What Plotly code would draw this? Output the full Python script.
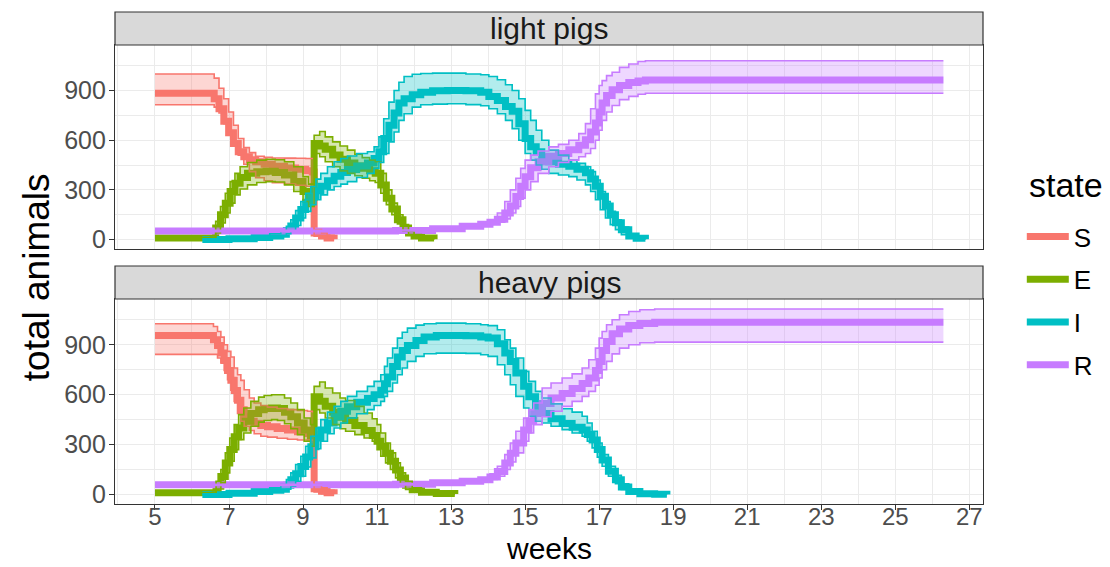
import plotly.graph_objects as go

# ---------------- data (weeks, mean, lower, upper) ----------------
states = ["S", "E", "I", "R"]
x_ticks = [5, 7, 9, 11, 13, 15, 17, 19, 21, 23, 25, 27]
y_ticks = [0, 300, 600, 900]

# light pigs
light_S_weeks = [5.0, 6.5, 6.6, 6.73, 6.86, 6.99, 7.12, 7.25, 7.4, 7.55, 7.72, 7.95, 8.17, 8.5, 8.8, 9.07, 9.25, 9.3, 9.5, 9.65, 9.84]
light_S_mean = [884, 884, 850, 790, 715, 645, 580, 530, 500, 482, 470, 455, 442, 432, 424, 415, 408, 40, 22, 10, 2]
light_S_hi = [1000, 1000, 975, 914, 850, 770, 690, 610, 555, 525, 503, 497, 493, 492, 491, 490, 490, 60, 40, 25, 8]
light_S_lo = [814, 814, 800, 764, 700, 650, 590, 510, 455, 410, 373, 355, 343, 335, 328, 322, 320, 20, 8, 0, 0]

light_E_weeks = [5.0, 6.5, 6.64, 6.77, 6.9, 7.03, 7.16, 7.3, 7.5, 7.75, 8.0, 8.25, 8.5, 8.75, 9.0, 9.15, 9.3, 9.45, 9.6, 9.8, 10.0, 10.2, 10.4, 10.6, 10.8, 10.95, 11.1, 11.25, 11.4, 11.55, 11.7, 11.85, 12.0, 12.2, 12.54]
light_E_mean = [10, 10, 70, 150, 220, 290, 340, 375, 400, 410, 412, 405, 390, 350, 290, 255, 580, 565, 545, 510, 485, 463, 445, 430, 415, 400, 330, 250, 185, 120, 70, 40, 22, 10, 2]
light_E_hi = [12, 15, 110, 200, 280, 350, 400, 440, 465, 480, 485, 482, 470, 440, 380, 335, 630, 653, 620, 590, 565, 540, 515, 495, 480, 470, 400, 300, 220, 150, 90, 50, 30, 15, 5]
light_E_lo = [8, 5, 40, 100, 160, 220, 270, 305, 330, 345, 350, 348, 330, 290, 230, 200, 520, 500, 470, 440, 415, 400, 385, 370, 355, 345, 280, 210, 150, 95, 50, 30, 15, 5, 0]

light_I_weeks = [6.28, 7.0, 7.68, 8.1, 8.4, 8.55, 8.67, 8.8, 8.94, 9.07, 9.21, 9.35, 9.48, 9.66, 9.84, 10.02, 10.2, 10.45, 10.74, 10.92, 11.05, 11.18, 11.32, 11.46, 11.59, 11.73, 11.95, 12.18, 12.5, 12.9, 13.4, 13.8, 14.02, 14.25, 14.47, 14.65, 14.83, 15.0, 15.15, 15.3, 15.45, 15.64, 15.9, 16.18, 16.4, 16.63, 16.77, 16.9, 17.03, 17.17, 17.3, 17.44, 17.6, 17.8, 18.0, 18.25]
light_I_mean = [0, 5, 12, 22, 32, 55, 82, 130, 182, 225, 262, 295, 322, 355, 383, 405, 423, 445, 463, 490, 530, 610, 690, 764, 824, 850, 874, 890, 898, 900, 898, 890, 864, 840, 804, 775, 700, 610, 560, 530, 500, 470, 455, 443, 425, 403, 365, 322, 262, 202, 150, 102, 60, 22, 8, 2]
light_I_hi = [5, 8, 20, 35, 50, 80, 120, 175, 230, 280, 320, 365, 400, 440, 470, 490, 505, 520, 530, 560, 620, 730, 830, 900, 950, 985, 998, 1003, 1005, 1005, 1000, 995, 985, 965, 935, 900, 850, 780, 720, 660, 600, 540, 510, 480, 460, 440, 410, 360, 290, 230, 170, 120, 75, 35, 15, 5]
light_I_lo = [0, 2, 5, 12, 20, 35, 50, 85, 130, 170, 210, 240, 270, 300, 320, 335, 350, 375, 400, 430, 465, 520, 590, 650, 720, 760, 800, 814, 818, 820, 815, 808, 790, 760, 720, 670, 600, 520, 480, 450, 425, 400, 390, 380, 360, 330, 290, 240, 180, 130, 90, 60, 30, 10, 2, 0]

light_R_weeks = [5.0, 11.5, 12.5, 13.3, 13.8, 14.05, 14.25, 14.45, 14.6, 14.75, 14.88, 15.0, 15.15, 15.35, 15.64, 15.9, 16.18, 16.45, 16.63, 16.77, 16.9, 17.0, 17.08, 17.2, 17.35, 17.55, 17.8, 18.05, 18.25, 18.6, 26.3]
light_R_mean = [52, 55, 65, 80, 92, 105, 122, 160, 202, 260, 322, 380, 433, 470, 503, 520, 543, 570, 603, 650, 704, 770, 824, 870, 904, 930, 948, 958, 964, 964, 964]
light_R_hi = [56, 58, 70, 85, 100, 120, 160, 230, 300, 370, 430, 480, 510, 535, 560, 575, 600, 640, 700, 790, 880, 930, 960, 990, 1010, 1040, 1060, 1075, 1080, 1080, 1080]
light_R_lo = [48, 52, 60, 75, 85, 95, 105, 125, 160, 200, 250, 300, 350, 400, 440, 465, 480, 500, 520, 550, 600, 660, 720, 770, 810, 845, 865, 878, 884, 884, 884]

# heavy pigs
heavy_S_weeks = [5.0, 6.46, 6.58, 6.69, 6.78, 6.87, 6.96, 7.05, 7.14, 7.23, 7.32, 7.41, 7.55, 7.68, 7.86, 8.04, 8.3, 8.58, 8.85, 9.12, 9.25, 9.3, 9.5, 9.65, 9.84]
heavy_S_mean = [956, 956, 930, 896, 850, 806, 745, 686, 625, 567, 510, 467, 440, 427, 415, 407, 397, 387, 377, 367, 362, 35, 20, 10, 2]
heavy_S_hi = [1026, 1026, 1010, 980, 946, 900, 860, 826, 760, 720, 686, 630, 580, 550, 535, 525, 517, 510, 505, 500, 497, 60, 40, 25, 8]
heavy_S_lo = [842, 842, 842, 820, 790, 746, 690, 627, 560, 487, 440, 410, 385, 365, 350, 345, 338, 332, 328, 327, 326, 15, 5, 0, 0]

heavy_E_weeks = [5.0, 6.55, 6.65, 6.78, 6.9, 7.02, 7.14, 7.26, 7.4, 7.59, 7.8, 7.95, 8.15, 8.31, 8.5, 8.67, 8.85, 9.03, 9.2, 9.3, 9.45, 9.6, 9.8, 10.0, 10.15, 10.4, 10.65, 10.87, 11.0, 11.1, 11.23, 11.36, 11.5, 11.63, 11.77, 11.95, 12.2, 12.6, 13.1]
heavy_E_mean = [10, 10, 50, 108, 190, 270, 347, 400, 440, 487, 510, 517, 520, 517, 495, 467, 430, 387, 350, 587, 560, 530, 495, 465, 445, 415, 385, 355, 320, 290, 248, 200, 148, 100, 55, 28, 14, 6, 3]
heavy_E_hi = [12, 15, 80, 150, 250, 340, 420, 480, 520, 560, 585, 595, 600, 600, 580, 550, 510, 460, 420, 650, 676, 640, 610, 580, 565, 530, 490, 455, 420, 370, 310, 250, 190, 130, 80, 40, 20, 8, 4]
heavy_E_lo = [8, 8, 25, 70, 130, 200, 270, 330, 370, 410, 435, 445, 450, 445, 425, 395, 360, 320, 290, 510, 490, 460, 420, 395, 380, 360, 340, 320, 270, 230, 190, 150, 100, 60, 30, 15, 5, 0, 0]

heavy_I_weeks = [6.28, 7.0, 7.68, 8.1, 8.4, 8.55, 8.67, 8.8, 8.94, 9.07, 9.21, 9.35, 9.48, 9.66, 9.84, 10.02, 10.2, 10.45, 10.74, 10.92, 11.1, 11.2, 11.28, 11.42, 11.55, 11.68, 11.82, 12.05, 12.27, 12.6, 12.9, 13.4, 13.8, 14.0, 14.25, 14.45, 14.6, 14.75, 14.96, 15.1, 15.28, 15.46, 15.7, 16.0, 16.27, 16.54, 16.68, 16.81, 16.95, 17.08, 17.25, 17.44, 17.6, 17.8, 18.1, 18.5, 18.83]
heavy_I_mean = [0, 8, 18, 25, 32, 55, 88, 125, 168, 225, 287, 340, 387, 430, 467, 500, 527, 555, 577, 600, 627, 665, 706, 770, 826, 865, 896, 925, 946, 955, 956, 954, 946, 940, 906, 850, 800, 730, 650, 587, 530, 487, 455, 427, 405, 387, 360, 327, 270, 208, 140, 88, 45, 18, 5, 2, 0]
heavy_I_hi = [5, 12, 25, 40, 60, 90, 130, 180, 230, 290, 350, 400, 450, 495, 530, 560, 590, 620, 650, 680, 720, 770, 820, 880, 940, 975, 1000, 1018, 1026, 1030, 1030, 1026, 1020, 1015, 990, 930, 880, 820, 740, 680, 620, 580, 545, 515, 495, 470, 430, 380, 310, 240, 170, 115, 65, 30, 10, 4, 2]
heavy_I_lo = [0, 4, 10, 15, 20, 32, 50, 80, 110, 165, 220, 275, 320, 365, 400, 430, 460, 485, 510, 535, 560, 590, 620, 670, 720, 760, 800, 830, 846, 850, 850, 848, 840, 830, 780, 720, 660, 590, 520, 470, 440, 430, 410, 390, 370, 350, 320, 280, 225, 170, 110, 65, 30, 10, 2, 0, 0]

heavy_R_weeks = [5.0, 11.5, 12.5, 13.3, 13.8, 14.05, 14.25, 14.45, 14.6, 14.75, 14.96, 15.1, 15.23, 15.46, 15.7, 16.0, 16.27, 16.54, 16.72, 16.9, 17.0, 17.08, 17.2, 17.35, 17.55, 17.8, 18.1, 18.5, 26.3]
heavy_R_mean = [58, 62, 70, 80, 88, 105, 138, 190, 248, 310, 387, 440, 487, 547, 580, 607, 637, 667, 700, 746, 800, 866, 920, 966, 995, 1016, 1028, 1035, 1035]
heavy_R_hi = [62, 66, 75, 88, 100, 125, 170, 240, 310, 380, 460, 510, 550, 640, 670, 700, 725, 760, 810, 880, 940, 980, 1020, 1050, 1080, 1100, 1110, 1115, 1115]
heavy_R_lo = [55, 58, 65, 74, 80, 90, 110, 150, 195, 250, 320, 370, 420, 467, 500, 530, 560, 590, 620, 657, 700, 750, 800, 845, 880, 900, 912, 916, 916]

# ---------------- styling ----------------
COLORS = {"S": "#F8766D", "E": "#7CAE00", "I": "#00BFC4", "R": "#C77CFF"}


def rgba(hex_color, a):
    h = hex_color.lstrip("#")
    return "rgba(%d,%d,%d,%.2f)" % (int(h[0:2], 16), int(h[2:4], 16), int(h[4:6], 16), a)


FONT = "Liberation Sans, Arial, sans-serif"

panels = [
    ("light pigs", "x", "y", {
        "S": (light_S_weeks, light_S_mean, light_S_lo, light_S_hi),
        "E": (light_E_weeks, light_E_mean, light_E_lo, light_E_hi),
        "I": (light_I_weeks, light_I_mean, light_I_lo, light_I_hi),
        "R": (light_R_weeks, light_R_mean, light_R_lo, light_R_hi),
    }),
    ("heavy pigs", "x2", "y2", {
        "S": (heavy_S_weeks, heavy_S_mean, heavy_S_lo, heavy_S_hi),
        "E": (heavy_E_weeks, heavy_E_mean, heavy_E_lo, heavy_E_hi),
        "I": (heavy_I_weeks, heavy_I_mean, heavy_I_lo, heavy_I_hi),
        "R": (heavy_R_weeks, heavy_R_mean, heavy_R_lo, heavy_R_hi),
    }),
]

fig = go.Figure()
for pi, (pname, xa, ya, series) in enumerate(panels):
    for st in states:
        w, m, lo, hi = series[st]
        fig.add_trace(go.Scatter(
            x=w, y=m, mode="lines", name=st, legendgroup=st, showlegend=(pi == 0),
            line=dict(color=COLORS[st], width=7, shape="hv"),
            xaxis=xa, yaxis=ya))
    for st in states:
        w, m, lo, hi = series[st]
        fig.add_trace(go.Scatter(
            x=w, y=lo, mode="lines", showlegend=False, hoverinfo="skip",
            line=dict(color=COLORS[st], width=1.6, shape="hv"),
            xaxis=xa, yaxis=ya))
        fig.add_trace(go.Scatter(
            x=w, y=hi, mode="lines", showlegend=False, hoverinfo="skip",
            fill="tonexty", fillcolor=rgba(COLORS[st], 0.3),
            line=dict(color=COLORS[st], width=1.6, shape="hv"),
            xaxis=xa, yaxis=ya))

# panel geometry (paper coordinates)
H_PLOT = 567 - 12 - 63
top_dom = [(504 - 249) / H_PLOT, (504 - 45) / H_PLOT]
bot_dom = [0.0, (504 - 299) / H_PLOT]
top_strip = [top_dom[1], 1.0]
bot_strip = [bot_dom[1], (504 - 266) / H_PLOT]

X_RANGE = [3.92, 27.37]
Y_RANGE = [-57, 1175]

common_x = dict(range=X_RANGE, tickmode="array", tickvals=x_ticks,
                showgrid=True, gridcolor="#EBEBEB", gridwidth=1.1,
                minor=dict(tickmode="linear", tick0=4, dtick=2, showgrid=True,
                           gridcolor="#EBEBEB", gridwidth=0.6, ticks=""),
                showline=True, mirror=True, linecolor="#333333", linewidth=1.2,
                zeroline=False)
common_y = dict(range=Y_RANGE, tickmode="array", tickvals=y_ticks,
                showgrid=True, gridcolor="#EBEBEB", gridwidth=1.1,
                minor=dict(tickmode="linear", tick0=150, dtick=300, showgrid=True,
                           gridcolor="#EBEBEB", gridwidth=0.6, ticks=""),
                showline=True, mirror=True, linecolor="#333333", linewidth=1.2,
                zeroline=False, ticks="outside", ticklen=5, tickwidth=1.1,
                tickcolor="#333333", ticklabelstandoff=-2,
                tickfont=dict(size=25, color="#4D4D4D", family=FONT))

fig.update_layout(
    width=1110, height=567,
    margin=dict(l=115, r=125, t=12, b=63),
    paper_bgcolor="white", plot_bgcolor="white",
    font=dict(family=FONT, color="black"),
    xaxis=dict(domain=[0, 1], anchor="y", showticklabels=False, ticks="", **common_x),
    xaxis2=dict(domain=[0, 1], anchor="y2", matches="x", ticks="outside", ticklen=5,
                tickwidth=1.1, tickcolor="#333333", ticklabelstandoff=-14,
                tickfont=dict(size=24, color="#4D4D4D", family=FONT), **common_x),
    yaxis=dict(domain=top_dom, anchor="x", **common_y),
    yaxis2=dict(domain=bot_dom, anchor="x2", **common_y),
    legend=dict(font=dict(size=26, family=FONT, color="black"),
                x=1.0447, xanchor="left", y=0.5915, yanchor="top",
                bgcolor="rgba(0,0,0,0)", tracegroupgap=6, itemwidth=42),
    showlegend=True,
)

shapes = []
annotations = []
for (pname, xa, ya, series), strip in zip(panels, [top_strip, bot_strip]):
    shapes.append(dict(type="rect", xref="paper", yref="paper", x0=0, x1=1,
                       y0=strip[0], y1=strip[1], fillcolor="#D9D9D9",
                       line=dict(color="#333333", width=1.2), layer="above"))
    annotations.append(dict(text=pname, xref="paper", yref="paper", x=0.5,
                            y=(strip[0] + strip[1]) / 2, showarrow=False,
                            xanchor="center", yanchor="middle",
                            font=dict(size=30, color="#1A1A1A", family=FONT)))

annotations.append(dict(text="weeks", xref="paper", yref="paper", x=0.5, y=(504 - 566.5) / H_PLOT,
                        showarrow=False, xanchor="center", yanchor="bottom",
                        font=dict(size=30, color="black", family=FONT)))
annotations.append(dict(text="total animals", xref="paper", yref="paper",
                        x=(36 - 115) / 870, y=(504 - 277) / H_PLOT, textangle=-90,
                        showarrow=False, xanchor="center", yanchor="middle",
                        font=dict(size=37, color="black", family=FONT)))
annotations.append(dict(text="state", xref="paper", yref="paper",
                        x=(1029 - 115) / 870, y=(504 - 185) / H_PLOT,
                        showarrow=False, xanchor="left", yanchor="middle",
                        font=dict(size=34, color="black", family=FONT)))
fig.update_layout(shapes=shapes, annotations=annotations)

fig.write_html("out.html", config={"displayModeBar": False},
               post_script="document.body.style.margin='0px';")
